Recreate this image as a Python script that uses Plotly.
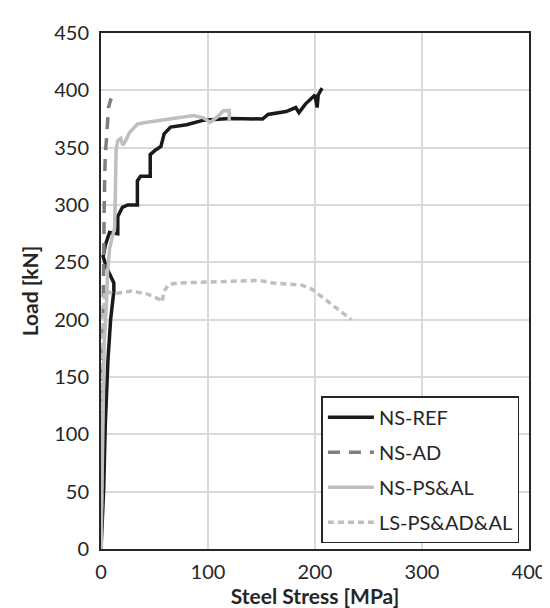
import plotly.graph_objects as go

# NS-REF
ref_x = [0, 1.5, 2.5, 4, 6.5, 9, 12, 12, 8, 5, 2, 4, 8, 15.7, 15.7, 20, 25, 34, 34, 37, 46, 46, 51, 56, 59, 65, 80, 96, 120, 151, 156, 173, 182, 185, 191, 200, 202, 203, 206.6]
ref_y = [0, 25, 52, 108, 165, 200, 225, 232, 240, 246, 255, 265, 276, 275, 290, 298, 300, 300, 321, 325, 325, 344, 348, 351, 362, 368, 370, 374, 375.5, 375, 379, 381.5, 385, 380.6, 388, 396, 385, 396, 402]

# NS-AD
ad_x = [0, 0.8, 1.2, 1.5, 1.8, 2, 2.5, 3, 3.4, 3.4, 4, 5, 6, 7, 8.5, 9.5]
ad_y = [0, 40, 100, 150, 200, 250, 277, 300, 320, 328, 345, 356, 370, 385, 390, 393]

# NS-PS&AL
ps_x = [0, 1, 2, 3, 5, 6, 8, 12, 12.7, 13.2, 14.1, 15.7, 18.5, 20.3, 23, 26.5, 31, 34, 41.6, 49.6, 68, 86.6, 95.8, 102, 109.6, 114, 119.8, 119.8]
ps_y = [0, 50, 120, 180, 210, 240, 262, 276, 280, 300, 348, 356, 358, 352, 356, 363, 368, 370.5, 372, 373, 376, 378, 376, 372, 377.5, 382, 382.5, 373]

# LS-PS&AD&AL
ls_x = [0, 1, 2, 3.4, 12.6, 28, 43, 54, 57, 59, 63.5, 74, 99, 126.6, 148, 160.5, 188, 197, 213, 234]
ls_y = [0, 100, 200, 225, 222.5, 225, 222.5, 218, 215.4, 225, 231, 232, 233, 234, 234.3, 232, 230, 226.7, 215.4, 200]

x_ticks = [0, 100, 200, 300, 400]
y_ticks = [0, 50, 100, 150, 200, 250, 300, 350, 400, 450]

FONT = "Lato"

fig = go.Figure()
fig.add_trace(go.Scatter(x=ref_x, y=ref_y, mode="lines", name="NS-REF",
                         line=dict(color="#1a1a1a", width=3.5), legendgroup="a"))
fig.add_trace(go.Scatter(x=ad_x, y=ad_y, mode="lines", name="NS-AD",
                         line=dict(color="#7f7f7f", width=3.5, dash="12px,9px"), legendgroup="b"))
fig.add_trace(go.Scatter(x=ps_x, y=ps_y, mode="lines", name="NS-PS&AL",
                         line=dict(color="#bfbfbf", width=3.5), legendgroup="c"))
fig.add_trace(go.Scatter(x=ls_x, y=ls_y, mode="lines", name="LS-PS&AD&AL",
                         line=dict(color="#bfbfbf", width=3.5, dash="6px,4px"), legendgroup="d"))

fig.update_layout(
    width=550, height=608,
    margin=dict(l=93, r=24, t=16, b=60),
    paper_bgcolor="white", plot_bgcolor="white",
    font=dict(family=FONT, size=20, color="#262626"),
    showlegend=True,
    legend=dict(x=0.515, y=0.296, xanchor="left", yanchor="top",
                bordercolor="#262626", borderwidth=1.5, bgcolor="white",
                font=dict(family=FONT, size=20, color="#262626"),
                tracegroupgap=6, traceorder="grouped", itemwidth=46),
    xaxis=dict(range=[0, 400], tickvals=x_ticks, showgrid=True, gridcolor="#d9d9d9", gridwidth=1.5,
               showline=True, linecolor="#262626", linewidth=2, mirror=True, zeroline=False,
               ticks="outside", ticklen=4, tickcolor="white",
               title=dict(text="<b>Steel Stress [MPa]</b>", font=dict(size=21), standoff=6)),
    yaxis=dict(range=[0, 450], tickvals=y_ticks, showgrid=True, gridcolor="#d9d9d9", gridwidth=1.5,
               showline=True, linecolor="#262626", linewidth=2, mirror=True, zeroline=False,
               ticks="outside", ticklen=6, tickcolor="white",
               title=dict(text="<b>Load [kN]</b>", font=dict(size=21), standoff=10)),
)

fig.write_html("out.html")
